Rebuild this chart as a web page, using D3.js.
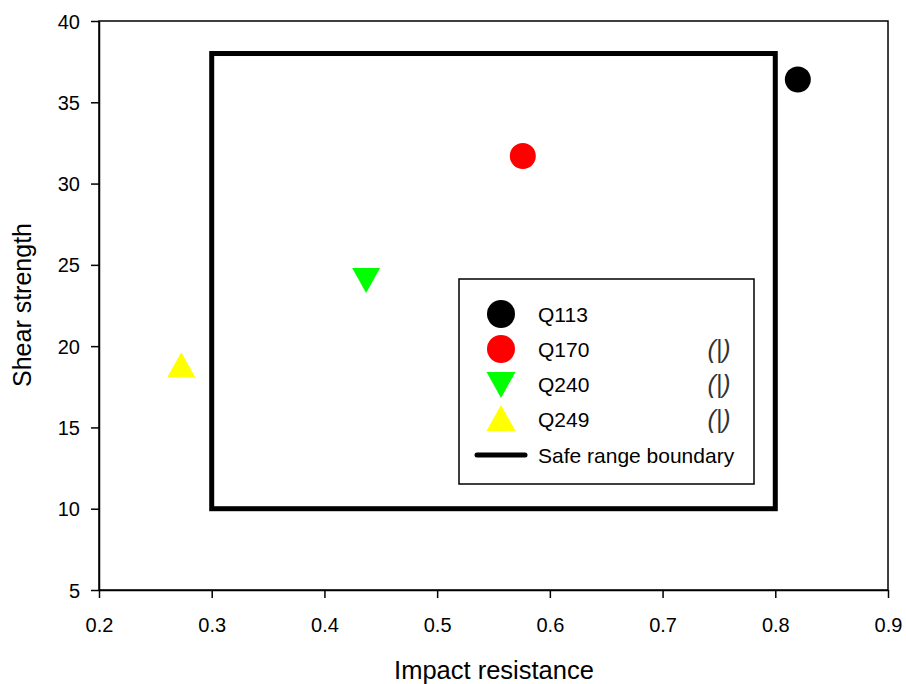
<!DOCTYPE html>
<html><head><meta charset="utf-8">
<script src="https://cdn.jsdelivr.net/npm/d3@7/dist/d3.min.js"></script>
<style>body{margin:0;background:#fff}svg{display:block}text{font-family:"Liberation Sans",Arial,sans-serif}</style>
</head><body><svg id="c" width="906" height="684"></svg>
<script>
const names = ["Q113", "Q170", "Q240", "Q249"];
const impact = [0.82, 0.576, 0.437, 0.273];
const shear = [36.4, 31.7, 24.1, 18.8];
const colors = ["#000000", "#ff0000", "#00ff00", "#ffff00"];
const shapes = ["circle", "circle", "triDown", "triUp"];
const boundaryX = [0.3, 0.8];
const boundaryY = [10, 38];
const xTicks = [0.2, 0.3, 0.4, 0.5, 0.6, 0.7, 0.8, 0.9];
const yTicks = [5, 10, 15, 20, 25, 30, 35, 40];

const svg = d3.select("#c");
const x = d3.scaleLinear().domain([0.2, 0.9]).range([99, 888]);
const y = d3.scaleLinear().domain([5, 40]).range([590, 21]);

svg.append("rect").attr("x", x(0.2)).attr("y", y(40)).attr("width", x(0.9)-x(0.2)).attr("height", y(5)-y(40))
  .attr("fill", "none").attr("stroke", "#000").attr("stroke-width", 1.5);

const xa = svg.append("g").attr("transform", `translate(0,${y(5)})`)
  .call(d3.axisBottom(x).tickValues(xTicks).tickFormat(d3.format(".1f")).tickSize(8).tickSizeOuter(0));
const ya = svg.append("g").attr("transform", `translate(${x(0.2)},0)`)
  .call(d3.axisLeft(y).tickValues(yTicks).tickFormat(d3.format("d")).tickSize(8).tickSizeOuter(0));
[xa, ya].forEach(a => {
  a.attr("font-size", null).attr("font-family", null);
  a.select(".domain").attr("stroke-width", 1.5);
  a.selectAll(".tick line").attr("stroke-width", 1.5);
  a.selectAll(".tick text").style("font-size", "20px").attr("fill", "#000");
});
xa.selectAll(".tick text").attr("dy", null).attr("y", 42);
ya.selectAll(".tick text").attr("x", -19).attr("dy", "0.35em");

svg.append("rect")
  .attr("x", x(boundaryX[0])).attr("y", y(boundaryY[1]))
  .attr("width", x(boundaryX[1]) - x(boundaryX[0])).attr("height", y(boundaryY[0]) - y(boundaryY[1]))
  .attr("fill", "none").attr("stroke", "#000").attr("stroke-width", 5);

function symPath(shape, big) {
  const r = big ? 14 : 13;
  if (shape === "circle") return d3.symbol(d3.symbolCircle, Math.PI * r * r)();
  const w = big ? 14.5 : 14, h = big ? 26 : 25;
  if (shape === "triUp") return `M0,${-h/2-1}L${w},${h/2-1}L${-w},${h/2-1}Z`;
  return `M0,${h/2+1}L${w},${-h/2+1}L${-w},${-h/2+1}Z`;
}

names.forEach((n, i) => {
  svg.append("path").attr("d", symPath(shapes[i], false))
    .attr("transform", `translate(${x(impact[i])},${y(shear[i])})`)
    .attr("fill", colors[i]);
});

const lg = svg.append("g");
lg.append("rect").attr("x", 459).attr("y", 279).attr("width", 295).attr("height", 205)
  .attr("fill", "#fff").attr("stroke", "#000").attr("stroke-width", 1.5);
const rowY = [314, 349, 384, 419];
names.forEach((n, i) => {
  lg.append("path").attr("d", symPath(shapes[i], true)).attr("transform", `translate(501,${rowY[i]})`).attr("fill", colors[i]);
  lg.append("text").attr("x", 538).attr("y", rowY[i] + 8).style("font-size", "21px").text(n);
  if (i > 0) lg.append("text").attr("x", 719).attr("y", rowY[i] + 9).style("font-size", "25px")
    .style("font-style", "italic").attr("text-anchor", "middle").attr("fill", "#333").text("(|)");
});
lg.append("line").attr("x1", 477).attr("x2", 525).attr("y1", 455).attr("y2", 455)
  .attr("stroke", "#000").attr("stroke-width", 5).attr("stroke-linecap", "round");
lg.append("text").attr("x", 538).attr("y", 463).style("font-size", "21px").text("Safe range boundary");

svg.append("text").attr("x", 494).attr("y", 679).attr("text-anchor", "middle").style("font-size", "25.5px").text("Impact resistance");
svg.append("text").attr("transform", "translate(31,305) rotate(-90)").attr("text-anchor", "middle").style("font-size", "25px").text("Shear strength");
</script></body></html>
